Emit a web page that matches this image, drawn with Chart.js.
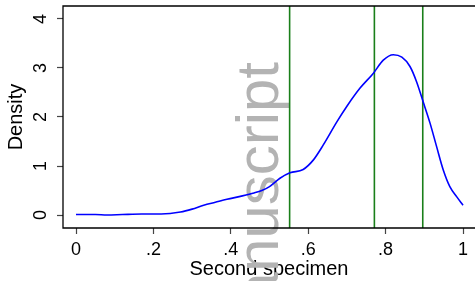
<!DOCTYPE html>
<html>
<head>
<meta charset="utf-8">
<script src="https://cdn.jsdelivr.net/npm/chart.js@4.4.0/dist/chart.umd.min.js"></script>
<style>
html,body{margin:0;padding:0;background:#fff;}
#wrap{width:475px;height:281px;position:relative;}
</style>
</head>
<body>
<div id="wrap"><canvas id="c" width="475" height="281"></canvas></div>
<script>
// Data
const densityX = [0, 0.05, 0.08, 0.12, 0.17, 0.22, 0.27, 0.30, 0.33, 0.36, 0.39, 0.43, 0.46, 0.48, 0.50, 0.527, 0.553, 0.587, 0.613, 0.639, 0.674, 0.70, 0.734, 0.768, 0.794, 0.82, 0.842, 0.863, 0.88, 0.897, 0.915, 0.932, 0.949, 0.966, 0.984, 1.0];
const densityY = [0.01, 0.01, 0.0, 0.01, 0.02, 0.02, 0.06, 0.12, 0.2, 0.26, 0.32, 0.39, 0.45, 0.5, 0.58, 0.75, 0.86, 0.93, 1.12, 1.43, 1.9, 2.22, 2.59, 2.89, 3.16, 3.27, 3.22, 3.03, 2.72, 2.31, 1.87, 1.39, 0.92, 0.58, 0.37, 0.2];
const refLines = [0.552, 0.771, 0.896];
const xTicks = [0, 0.2, 0.4, 0.6, 0.8, 1];
const xTickLabels = ["0", ".2", ".4", ".6", ".8", "1"];
const yTicks = [0, 1, 2, 3, 4];
const yTickLabels = ["0", "1", "2", "3", "4"];
const xTitle = "Second specimen";
const yTitle = "Density";
const watermark = "Author Manuscript";

const X_MIN = -0.0336, X_MAX = 1.031;
const Y_MIN = -0.265, Y_MAX = 4.265;

const datasets = [{
  data: densityX.map((x, i) => ({x: x, y: densityY[i]})),
  borderColor: '#0000ff',
  borderWidth: 1.6,
  pointRadius: 0,
  tension: 0.4,
  cubicInterpolationMode: 'monotone',
  fill: false,
  order: 1
}];
refLines.forEach(v => datasets.push({
  data: [{x: v, y: Y_MIN}, {x: v, y: Y_MAX}],
  borderColor: '#1a7f1a',
  borderWidth: 1.6,
  pointRadius: 0,
  fill: false,
  order: 2
}));

const FONT = 'Liberation Sans, Arial, Helvetica, sans-serif';

const customDraw = {
  id: 'customDraw',
  beforeDatasetsDraw(chart) {
    const ctx = chart.ctx;
    ctx.save();
    ctx.translate(278, 62);
    ctx.rotate(-Math.PI / 2);
    ctx.font = '60px ' + FONT;
    ctx.fillStyle = '#b3b3b3';
    ctx.textAlign = 'right';
    ctx.textBaseline = 'alphabetic';
    ctx.fillText(watermark, 0, 0);
    ctx.restore();
  },
  afterDraw(chart) {
    const ctx = chart.ctx;
    const a = chart.chartArea;
    const ys = chart.scales.y;
    ctx.save();
    ctx.strokeStyle = '#000';
    ctx.lineWidth = 1.3;
    ctx.beginPath();
    ctx.moveTo(a.right + 2, a.top);
    ctx.lineTo(a.left, a.top);
    ctx.lineTo(a.left, a.bottom);
    ctx.lineTo(a.right + 2, a.bottom);
    ctx.stroke();
    ctx.fillStyle = '#000';
    ctx.font = '18px ' + FONT;
    ctx.textAlign = 'center';
    ctx.textBaseline = 'middle';
    yTicks.forEach((v, i) => {
      const py = ys.getPixelForValue(v);
      ctx.save();
      ctx.translate(41, py);
      ctx.rotate(-Math.PI / 2);
      ctx.fillText(yTickLabels[i], 0, 0);
      ctx.restore();
    });
    ctx.font = '20px ' + FONT;
    ctx.save();
    ctx.translate(16, (a.top + a.bottom) / 2);
    ctx.rotate(-Math.PI / 2);
    ctx.fillText(yTitle, 0, 0);
    ctx.restore();
    ctx.restore();
  }
};

new Chart(document.getElementById('c'), {
  type: 'line',
  data: { datasets: datasets },
  options: {
    responsive: false,
    animation: false,
    layout: { padding: { top: 6, right: 0, left: 0, bottom: 0 } },
    plugins: { legend: { display: false }, tooltip: { enabled: false } },
    scales: {
      x: {
        type: 'linear',
        min: X_MIN, max: X_MAX,
        afterBuildTicks: s => { s.ticks = xTicks.map(v => ({value: v})); },
        afterFit: s => { s.height = 53; },
        grid: { drawOnChartArea: false, drawTicks: true, tickLength: 6, color: '#444', tickWidth: 1.2 },
        border: { display: false },
        ticks: {
          font: { family: FONT, size: 18 }, color: '#000', padding: 5, maxRotation: 0,
          callback: (v) => { const i = xTicks.findIndex(t => Math.abs(t - v) < 1e-9); return i >= 0 ? xTickLabels[i] : ''; }
        },
        title: { display: true, text: xTitle, font: { family: FONT, size: 20 }, color: '#000', padding: { top: 0, bottom: 0 } }
      },
      y: {
        type: 'linear',
        min: Y_MIN, max: Y_MAX,
        afterBuildTicks: s => { s.ticks = yTicks.map(v => ({value: v})); },
        afterFit: s => { s.width = 63; },
        grid: { drawOnChartArea: false, drawTicks: true, tickLength: 6, color: '#444', tickWidth: 1.2 },
        border: { display: false },
        ticks: { display: false }
      }
    }
  },
  plugins: [customDraw]
});
</script>
</body>
</html>
